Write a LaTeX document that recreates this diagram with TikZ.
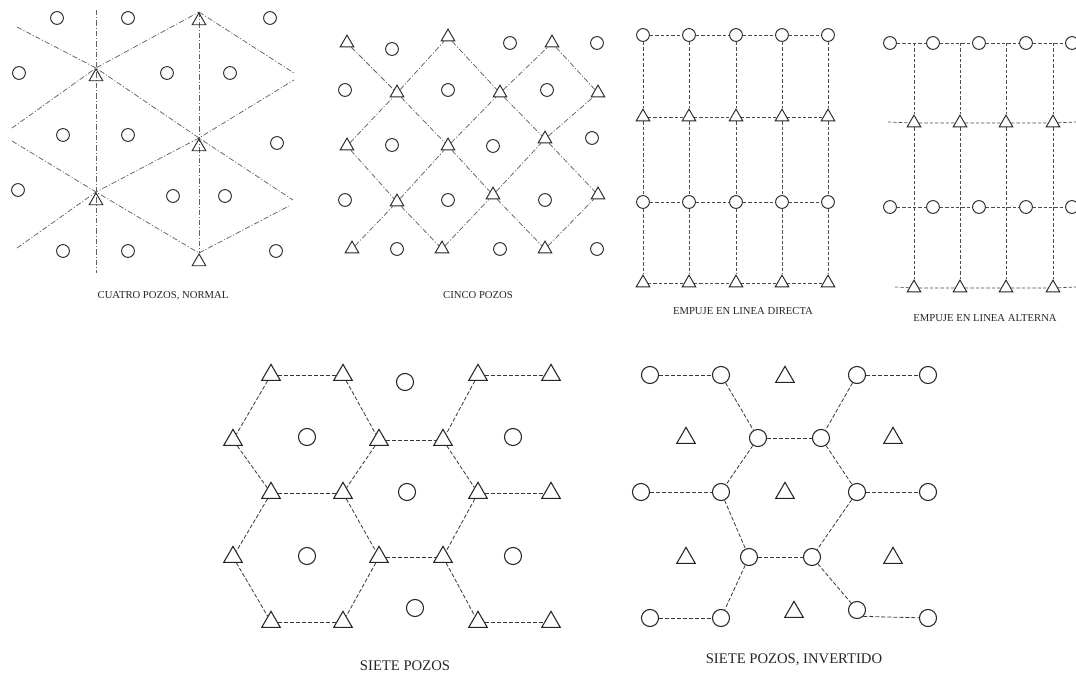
\documentclass[tikz,border=0pt]{standalone}
\usepackage{fontspec}
\setmainfont{Liberation Serif}
\usetikzlibrary{shapes.geometric,backgrounds}
\tikzset{
  wellc/.style={circle,draw=black!85,line width=0.7pt,fill=white,inner sep=0pt,minimum size=9.6pt},
  wellt/.style={regular polygon,regular polygon sides=3,draw=black!85,line width=0.7pt,inner sep=0pt,minimum size=11.8pt},
  bigc/.style={wellc,line width=0.8pt,minimum size=12.8pt},
  bigt/.style={wellt,line width=0.8pt,minimum size=16pt},
  dd/.style={draw=black!62,line width=0.55pt,dash pattern=on 4pt off 1.5pt on 0.8pt off 1.5pt},
  ds/.style={draw=black!70,line width=0.5pt,dash pattern=on 2.5pt off 1.5pt},
  dsb/.style={draw=black!78,line width=0.6pt,dash pattern=on 3pt off 1.5pt},
  lbl/.style={font=\fontsize{8}{9}\selectfont,text=black!85,inner sep=0pt},
  blbl/.style={font=\fontsize{11}{12}\selectfont,text=black!85,inner sep=0pt},
}
\begin{document}
\begin{tikzpicture}[x=0.75pt,y=-0.75pt]
\useasboundingbox (0,0) rectangle (1076,678);

% ---------------- Panel 1: CUATRO POZOS, NORMAL ----------------
\foreach \n/\x/\y in {1/57/18,2/128/18,3/270/18,4/19/73,5/167/73,6/230/73,7/63/135,8/128/135,9/277/143,10/18/190,11/173/196,12/225/196,13/63/251,14/128/251,15/276/251}
  \node[wellc] (ac\n) at (\x,\y) {};
\node[wellt,anchor=north] (at1) at (199,12) {};
\node[wellt,anchor=north] (at2) at (96,68) {};
\node[wellt,anchor=north] (at3) at (199,138) {};
\node[wellt,anchor=north] (at4) at (96,192) {};
\node[wellt,anchor=north] (at5) at (199,253) {};
\coordinate (ae1) at (17,27);
\coordinate (ae2) at (293,200);
\coordinate (ae3) at (12,128);
\coordinate (ae4) at (294,73);
\coordinate (ae5) at (12,141);
\coordinate (ae6) at (17,248);
\coordinate (ae7) at (294,80);
\coordinate (ae8) at (289,206);
\coordinate (av1) at (96,10);
\coordinate (av2) at (96,273);
\node[lbl] (acap) at (163,296) {CUATRO POZOS, NORMAL};

% ---------------- Panel 2: CINCO POZOS ----------------
\node[wellt] (p11) at (347,43) {};
\node[wellt] (p12) at (448,37) {};
\node[wellt] (p13) at (552,43) {};
\node[wellt] (p21) at (397,93) {};
\node[wellt] (p22) at (500,93) {};
\node[wellt] (p23) at (598,93) {};
\node[wellt] (p31) at (347,146) {};
\node[wellt] (p32) at (448,146) {};
\node[wellt] (p33) at (545,139) {};
\node[wellt] (p41) at (397,202) {};
\node[wellt] (p42) at (493,195) {};
\node[wellt] (p43) at (598,195) {};
\node[wellt] (p51) at (352,249) {};
\node[wellt] (p52) at (442,249) {};
\node[wellt] (p53) at (545,249) {};
\foreach \n/\x/\y in {1/392/49,2/510/43,3/597/43,4/345/90,5/448/90,6/547/90,7/392/145,8/493/146,9/592/138,10/345/200,11/448/200,12/545/200,13/397/249,14/500/249,15/597/249}
  \node[wellc] (pc\n) at (\x,\y) {};
\node[lbl] (pcap) at (478,295) {CINCO POZOS};

% ---------------- Panel 3: EMPUJE EN LINEA DIRECTA ----------------
\foreach \i/\x in {1/643,2/689,3/736,4/782,5/828} {
  \node[wellc] (d1\i) at (\x,35) {};
  \node[wellt] (d2\i) at (\x,117) {};
  \node[wellc] (d3\i) at (\x,202) {};
  \node[wellt] (d4\i) at (\x,283) {};
}
\node[lbl] (dcap) at (743,311) {EMPUJE EN LINEA DIRECTA};

% ---------------- Panel 4: EMPUJE EN LINEA ALTERNA ----------------
\foreach \i/\x in {1/890,2/933,3/979,4/1026,5/1072} {
  \node[wellc] (l1\i) at (\x,43) {};
  \node[wellc] (l3\i) at (\x,207) {};
}
\foreach \i/\x in {1/914,2/960,3/1006,4/1053} {
  \node[wellt] (l2\i) at (\x,123) {};
  \node[wellt] (l4\i) at (\x,288) {};
  \coordinate (lv\i) at (\x,43);
}
\coordinate (lh1) at (888,122);
\coordinate (lh2) at (1076,122);
\coordinate (lh3) at (895,287);
\coordinate (lh4) at (1076,287);
\node[lbl] (lcap) at (985,318) {EMPUJE EN LINEA ALTERNA};

% ---------------- Panel 5: SIETE POZOS ----------------
\foreach \n/\x in {1/271,2/343,3/478,4/551} {
  \node[bigt] (sa\n) at (\x,375) {};
  \node[bigt] (sc\n) at (\x,493) {};
  \node[bigt] (se\n) at (\x,622) {};
}
\foreach \n/\x in {1/233,2/379,3/443} {
  \node[bigt] (sb\n) at (\x,440) {};
  \node[bigt] (sd\n) at (\x,557) {};
}
\foreach \n/\x/\y in {1/405/382,2/307/437,3/513/437,4/407/492,5/307/556,6/513/556,7/415/608}
  \node[bigc] (so\n) at (\x,\y) {};
\node[blbl] (scap) at (405,666) {SIETE POZOS};

% ---------------- Panel 6: SIETE POZOS, INVERTIDO ----------------
\node[bigc] (f1) at (650,375) {};
\node[bigc] (f2) at (721,375) {};
\node[bigc] (f3) at (857,375) {};
\node[bigc] (f4) at (928,375) {};
\node[bigc] (g1) at (758,438) {};
\node[bigc] (g2) at (821,438) {};
\node[bigc] (h1) at (641,492) {};
\node[bigc] (h2) at (721,492) {};
\node[bigc] (h3) at (857,492) {};
\node[bigc] (h4) at (928,492) {};
\node[bigc] (i1) at (749,557) {};
\node[bigc] (i2) at (812,557) {};
\node[bigc] (j1) at (650,618) {};
\node[bigc] (j2) at (721,618) {};
\node[bigc] (j3) at (857,610) {};
\node[bigc] (j4) at (928,618) {};
\foreach \n/\x/\y in {1/785/377,2/686/438,3/893/438,4/785/493,5/686/558,6/893/558,7/794/612}
  \node[bigt] (vt\n) at (\x,\y) {};
\node[blbl] (vcap) at (794,660) {SIETE POZOS, INVERTIDO};

% ---------------- connectors (behind the wells) ----------------
\begin{scope}[on background layer]
\fill[white] (0,0) rectangle (1076,678);
% panel 1
\draw[dd] (av1) -- (av2);
\draw[dd] (at1.north) -- (at5.north);
\draw[dd] (ae1) -- (at2.north) -- (at3.north) -- (ae2);
\draw[dd] (ae3) -- (at2.north) -- (at1.north);
\draw[dd] (at1.north) -- (ae4);
\draw[dd] (ae5) -- (at4.north) -- (at5.north);
\draw[dd] (ae6) -- (at4.north) -- (at3.north) -- (ae7);
\draw[dd] (at5.north) -- (ae8);
% panel 2
\draw[dd] (p11) -- (p21) -- (p32) -- (p42) -- (p53);
\draw[dd] (p12) -- (p22) -- (p33) -- (p43);
\draw[dd] (p13) -- (p23);
\draw[dd] (p31) -- (p41) -- (p52);
\draw[dd] (p51) -- (p41) -- (p32) -- (p22) -- (p13);
\draw[dd] (p52) -- (p42) -- (p33) -- (p23);
\draw[dd] (p53) -- (p43);
\draw[dd] (p31) -- (p21) -- (p12);
% panel 3
\foreach \r in {1,2,3,4}
  \draw[ds] (d\r1) -- (d\r2) -- (d\r3) -- (d\r4) -- (d\r5);
\foreach \i in {1,...,5}
  \draw[ds] (d1\i) -- (d2\i) -- (d3\i) -- (d4\i);
% panel 4
\draw[ds] (l11) -- (l12) -- (l13) -- (l14) -- (l15);
\draw[ds] (l31) -- (l32) -- (l33) -- (l34) -- (l35);
\draw[ds] (lh1) -- (l21) -- (l22) -- (l23) -- (l24) -- (lh2);
\draw[ds] (lh3) -- (l41) -- (l42) -- (l43) -- (l44) -- (lh4);
\foreach \i in {1,...,4}
  \draw[ds] (lv\i) -- (l2\i) -- (l4\i);
% panel 5
\draw[dsb] (sa1) -- (sa2);
\draw[dsb] (sa3) -- (sa4);
\draw[dsb] (sb2) -- (sb3);
\draw[dsb] (sc1) -- (sc2);
\draw[dsb] (sc3) -- (sc4);
\draw[dsb] (sd2) -- (sd3);
\draw[dsb] (se1) -- (se2);
\draw[dsb] (se3) -- (se4);
\draw[dsb] (sa1) -- (sb1) -- (sc1) -- (sd1) -- (se1);
\draw[dsb] (sa2) -- (sb2) -- (sc2) -- (sd2) -- (se2);
\draw[dsb] (sa3) -- (sb3) -- (sc3) -- (sd3) -- (se3);
% panel 6
\draw[dsb] (f1) -- (f2);
\draw[dsb] (f3) -- (f4);
\draw[dsb] (g1) -- (g2);
\draw[dsb] (h1) -- (h2);
\draw[dsb] (h3) -- (h4);
\draw[dsb] (i1) -- (i2);
\draw[dsb] (j1) -- (j2);
\draw[dsb] (j3.south east) -- (j4);
\draw[dsb] (f2) -- (g1) -- (h2) -- (i1) -- (j2);
\draw[dsb] (f3) -- (g2) -- (h3) -- (i2) -- (j3);
\end{scope}
\end{tikzpicture}
\end{document}
